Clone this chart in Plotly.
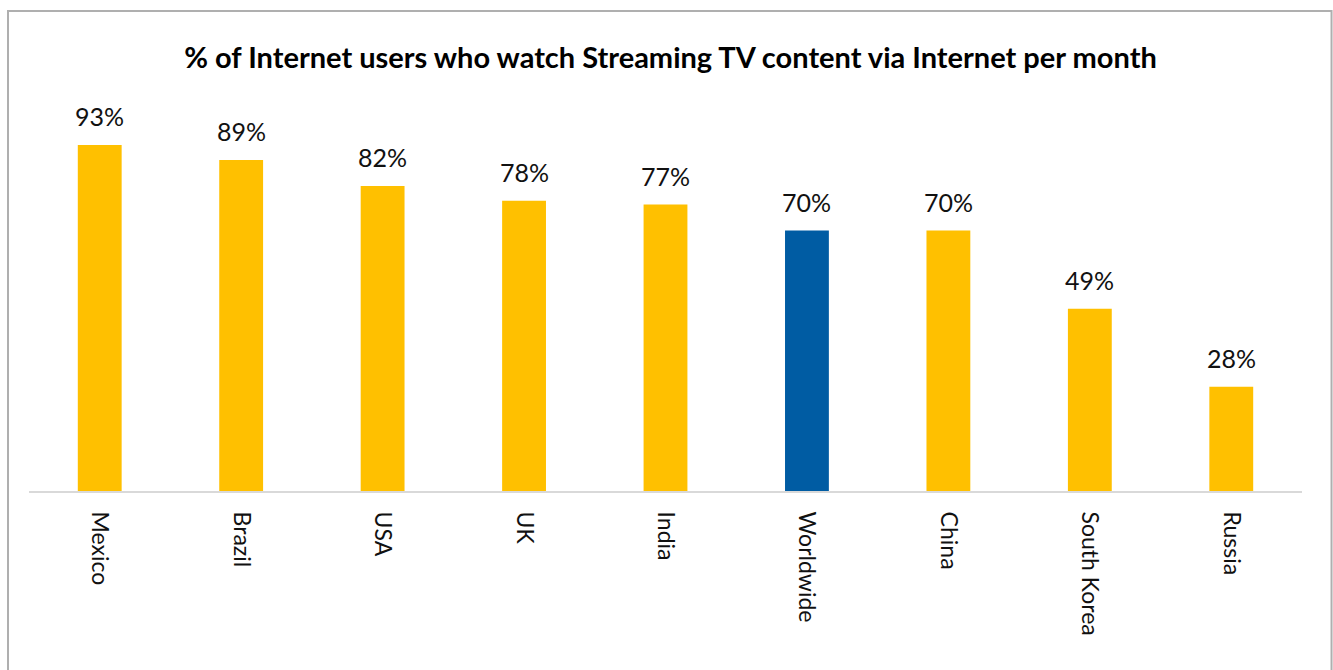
import plotly.graph_objects as go

categories = ["Mexico", "Brazil", "USA", "UK", "India", "Worldwide", "China", "South Korea", "Russia"]
values = [93, 89, 82, 78, 77, 70, 70, 49, 28]
highlight = "Worldwide"
title_text = "% of Internet users who watch Streaming TV content via Internet per month"

GOLD = "#FFC000"
BLUE = "#005CA3"
FONT = "Lato"

colors = [BLUE if c == highlight else GOLD for c in categories]

fig = go.Figure()
fig.add_trace(go.Bar(
    x=categories, y=values, marker=dict(color=colors, line=dict(width=0)),
    hoverinfo="skip",
))

for c, v in zip(categories, values):
    fig.add_annotation(
        x=c, y=v, text=f"{v}%", showarrow=False, yanchor="bottom",
        yshift=12, font=dict(family=FONT, size=25, color="#111111"),
    )

fig.update_layout(
    width=1333, height=670,
    paper_bgcolor="white", plot_bgcolor="white",
    margin=dict(l=29, r=31, t=119, b=179),
    bargap=0.69,
    showlegend=False,
    title=dict(text=f"<b>{title_text}</b>", x=0.503, xanchor="center",
               y=0.913, yanchor="middle",
               font=dict(family=FONT, size=29, color="#000000")),
    xaxis=dict(
        tickangle=90, tickfont=dict(family=FONT, size=23, color="#111111"),
        showline=True, linecolor="#D9D9D9", linewidth=2,
        ticks="", showgrid=False, ticklabelstandoff=14,
    ),
    yaxis=dict(range=[0, 100], visible=False, showgrid=False, zeroline=False),
    shapes=[dict(type="rect", xref="paper", yref="paper",
                 x0=-0.0165, x1=1.0232, y0=-0.6, y1=1.29,
                 line=dict(color="#AFAFAF", width=2), layer="below")],
)

fig.write_html("out.html", config={"displayModeBar": False},
               post_script="document.body.style.margin='0';document.documentElement.style.overflow='hidden';")
